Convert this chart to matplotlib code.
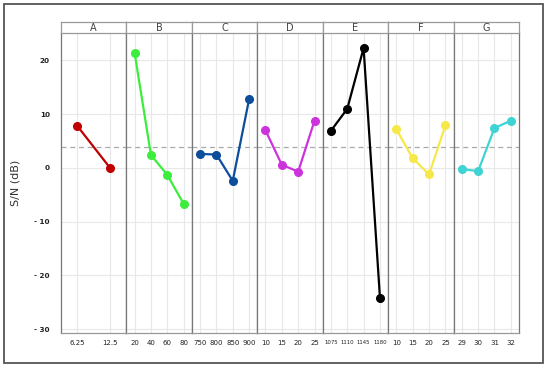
import matplotlib
matplotlib.use("Agg")
import matplotlib.pyplot as plt
from matplotlib.patches import Rectangle

# factor levels and S/N values per factor
factors = ["A", "B", "C", "D", "E", "F", "G"]
levels = {
    "A": ["6.25", "12.5"],
    "B": ["20", "40", "60", "80"],
    "C": ["750", "800", "850", "900"],
    "D": ["10", "15", "20", "25"],
    "E": ["1075", "1110", "1145", "1180"],
    "F": ["10", "15", "20", "25"],
    "G": ["29", "30", "31", "32"],
}
sn_values = {
    "A": [7.8, 0.0],
    "B": [21.4, 2.4, -1.3, -6.7],
    "C": [2.6, 2.5, -2.4, 12.8],
    "D": [7.0, 0.6, -0.7, 8.8],
    "E": [6.9, 11.0, 22.3, -24.2],
    "F": [7.2, 1.8, -1.2, 7.9],
    "G": [-0.2, -0.6, 7.4, 8.8],
}
colors = {
    "A": "#c00000",
    "B": "#3ded3d",
    "C": "#0c4d9c",
    "D": "#cc33dd",
    "E": "#000000",
    "F": "#f7e84a",
    "G": "#3fd3d3",
}
mean_sn = 3.9
yticks = [20, 10, 0, -10, -20, -30]
ytick_labels = ["20", "10", "0", "- 10", "- 20", "- 30"]

fig = plt.figure(figsize=(5.5, 3.67), dpi=100)
fig.patches.append(Rectangle((4 / 550, 4 / 367), 539 / 550, 359 / 367,
                             transform=fig.transFigure, fill=False,
                             edgecolor="#555555", linewidth=1.3))

left, right = 61 / 550, 519 / 550
bottom, top, head = 34 / 367, 334 / 367, 345 / 367
w = (right - left) / len(factors)

for i, f in enumerate(factors):
    ax = fig.add_axes([left + i * w, bottom, w, top - bottom])
    hx = fig.add_axes([left + i * w, top, w, head - top])
    n = len(levels[f])
    xs = [(k + 0.5) / n for k in range(n)]
    ax.set_xlim(0, 1)
    ax.set_ylim(-30.7, 25.1)
    ax.set_yticks(yticks)
    ax.grid(True, color="#e8e8e8", linewidth=0.8)
    ax.axhline(mean_sn, color="#aaaaaa", linestyle=(0, (4, 3)), linewidth=0.9, zorder=2)
    ax.plot(xs, sn_values[f], color=colors[f], marker="o", markersize=5.5,
            linewidth=1.6, zorder=3)
    ax.set_xticks(xs)
    fs = 3.9 if f == "E" else 5.0
    ax.set_xticklabels(levels[f], fontsize=fs, color="#222222")
    ax.tick_params(axis="x", length=0, pad=5)
    if i == 0:
        ax.set_yticklabels(ytick_labels, fontsize=5.2, color="#222222", fontweight="bold")
        ax.tick_params(axis="y", length=0, pad=8)
        ax.set_ylabel("S/N (dB)", fontsize=8, color="#333333", labelpad=10)
    else:
        ax.tick_params(axis="y", length=0, labelleft=False)
    for s in ax.spines.values():
        s.set_color("#999999")
        s.set_linewidth(0.9)
    ax.spines["left"].set_color("#777777")
    ax.spines["right"].set_color("#777777")
    ax.spines["top"].set_visible(False)
    hx.set_xticks([])
    hx.set_yticks([])
    for s in hx.spines.values():
        s.set_color("#999999")
        s.set_linewidth(0.9)
    hx.text(0.5, 0.45, f, ha="center", va="center", fontsize=7, color="#444444")

fig.savefig("out.png", dpi=100)
